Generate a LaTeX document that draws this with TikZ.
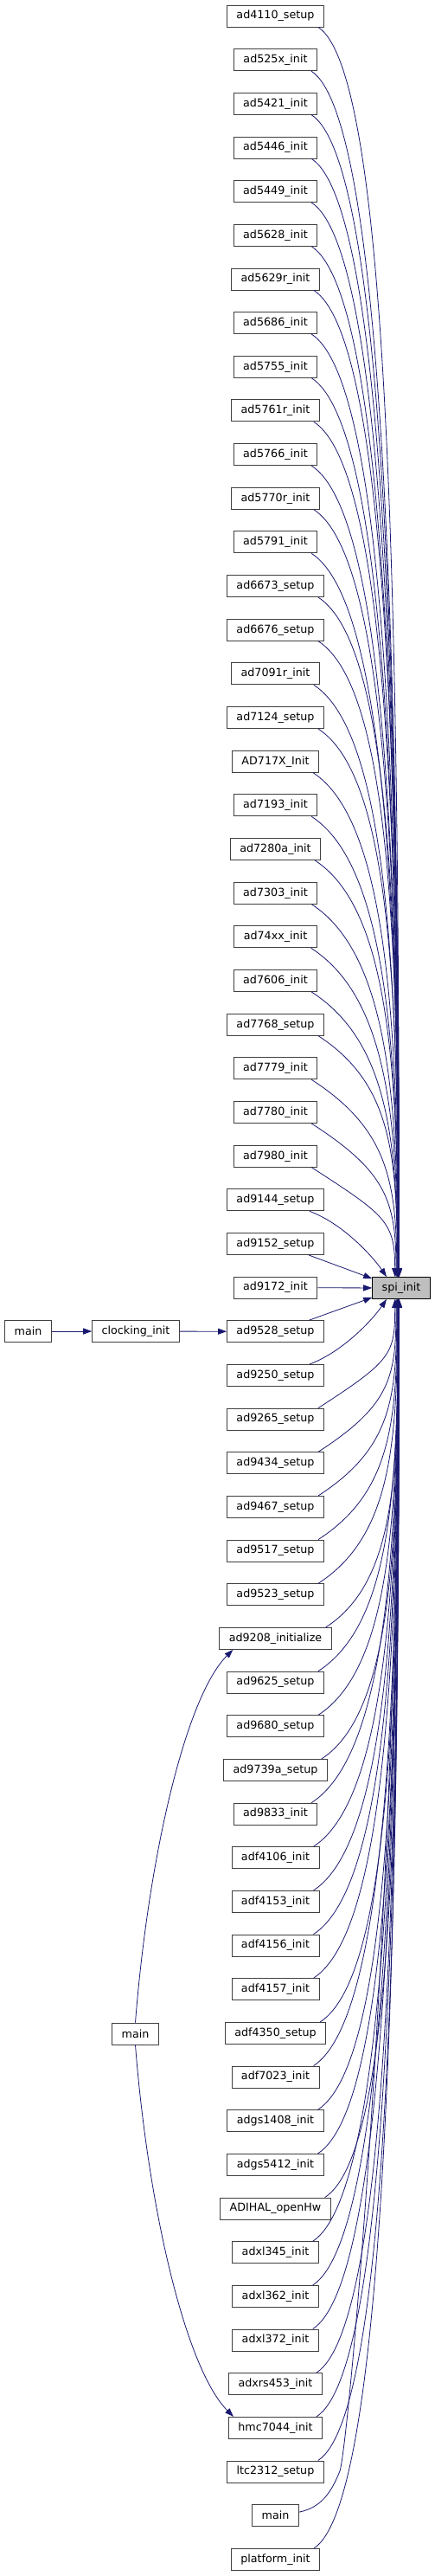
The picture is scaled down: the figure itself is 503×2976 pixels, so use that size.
\documentclass[tikz,border=0pt]{standalone}
\usepackage{fontspec}
\setmainfont{DejaVu Sans}
\usepackage{tikz}
\usetikzlibrary{arrows.meta}

\definecolor{edgeblue}{RGB}{25,25,112}
\definecolor{activegray}{RGB}{191,191,191}

\begin{document}
\begin{tikzpicture}[x=1pt, y=-1pt,
    fn/.style={rectangle, draw=black!75, line width=0.9pt, fill=white, minimum height=25pt,
        inner xsep=11pt, inner ysep=0pt, font=\fontsize{12.7}{15}\selectfont},
    call/.style={draw=edgeblue, line width=0.8pt, ->, >={Triangle[length=10pt, width=7pt]}}]

    \useasboundingbox (0,0) rectangle (503,2976);

    \node[fn, fill=activegray, draw=black] (spiinit) at (464,1488) {spi\_init};

    % callers of spi_init, top to bottom
    \foreach \name/\lbl [count=\k] in {ad4110setup/ad4110\_setup, ad525xinit/ad525x\_init,
        ad5421init/ad5421\_init, ad5446init/ad5446\_init, ad5449init/ad5449\_init,
        ad5628init/ad5628\_init, ad5629rinit/ad5629r\_init, ad5686init/ad5686\_init,
        ad5755init/ad5755\_init, ad5761rinit/ad5761r\_init, ad5766init/ad5766\_init,
        ad5770rinit/ad5770r\_init, ad5791init/ad5791\_init, ad6673setup/ad6673\_setup,
        ad6676setup/ad6676\_setup, ad7091rinit/ad7091r\_init, ad7124setup/ad7124\_setup,
        ad717xinit/AD717X\_Init, ad7193init/ad7193\_init, ad7280ainit/ad7280a\_init,
        ad7303init/ad7303\_init, ad74xxinit/ad74xx\_init, ad7606init/ad7606\_init,
        ad7768setup/ad7768\_setup, ad7779init/ad7779\_init, ad7780init/ad7780\_init,
        ad7980init/ad7980\_init, ad9144setup/ad9144\_setup, ad9152setup/ad9152\_setup,
        ad9172init/ad9172\_init, ad9528setup/ad9528\_setup, ad9250setup/ad9250\_setup,
        ad9265setup/ad9265\_setup, ad9434setup/ad9434\_setup, ad9467setup/ad9467\_setup,
        ad9517setup/ad9517\_setup, ad9523setup/ad9523\_setup, ad9208initialize/ad9208\_initialize,
        ad9625setup/ad9625\_setup, ad9680setup/ad9680\_setup, ad9739asetup/ad9739a\_setup,
        ad9833init/ad9833\_init, adf4106init/adf4106\_init, adf4153init/adf4153\_init,
        adf4156init/adf4156\_init, adf4157init/adf4157\_init, adf4350setup/adf4350\_setup,
        adf7023init/adf7023\_init, adgs1408init/adgs1408\_init, adgs5412init/adgs5412\_init,
        adihalopenhw/ADIHAL\_openHw, adxl345init/adxl345\_init, adxl362init/adxl362\_init,
        adxl372init/adxl372\_init, adxrs453init/adxrs453\_init, hmc7044init/hmc7044\_init,
        ltc2312setup/ltc2312\_setup, main/main, platforminit/platform\_init}
        \node[fn, alias=c\k] (\name) at (318.5,{18.5+(\k-1)*50.66}) {\lbl};

    \node[fn] (clockinginit) at (157,1538) {clocking\_init};
    \node[fn] (mainclk) at (32.5,1538) {main};
    \node[fn] (mainhmc) at (156.5,2349.5) {main};

    % edges into spi_init from above
    \foreach \k in {1,...,27} {
        \pgfmathsetmacro{\dl}{0.5*(1476-(31+(\k-1)*50.66))}
        \pgfmathsetmacro{\dx}{-2-16/(30-\k)}
        \draw[call] ([xshift=-7pt]c\k.south east) .. controls +(85,55) and +(0,-\dl) .. ([xshift=\dx pt]spiinit.north);
    }
    \draw[call] ([xshift=-17pt]c28.south east) .. controls +(40,15) and +(-15,-22) .. ([xshift=-17pt]spiinit.north);
    \draw[call] ([xshift=-18pt]c29.south east) -- ([yshift=-2pt]spiinit.north west);
    \draw[call] (c30) -- (spiinit);
    \draw[call] ([xshift=-18pt]c31.north east) -- ([yshift=2pt]spiinit.south west);
    \draw[call] ([xshift=-17pt]c32.north east) .. controls +(40,-15) and +(-15,22) .. ([xshift=-17pt]spiinit.south);

    % edges into spi_init from below
    \foreach \k in {33,...,57,59} {
        \pgfmathsetmacro{\dl}{0.5*((6+(\k-1)*50.66)-1500)}
        \pgfmathsetmacro{\dx}{-2-16/(\k-30)}
        \draw[call] ([xshift=-7pt]c\k.north east) .. controls +(85,-55) and +(0,\dl) .. ([xshift=\dx pt]spiinit.south);
    }
    \draw[call] ([yshift=4pt]main.east) .. controls +(25,-5) and +(-10,25) .. ++(47,-47)
        .. controls +(10,-25) and +(0,677) .. ([xshift=-2.6pt]spiinit.south);

    % the other calls
    \draw[call] (mainclk) -- (clockinginit);
    \draw[call] (clockinginit) -- (ad9528setup);
    \draw[call] (mainhmc.north) .. controls +(15,-190) and +(-55,55) .. ([xshift=16pt]ad9208initialize.south west);
    \draw[call] (mainhmc.south) .. controls +(15,190) and +(-55,-55) .. ([xshift=6pt]hmc7044init.north west);
\end{tikzpicture}
\end{document}
